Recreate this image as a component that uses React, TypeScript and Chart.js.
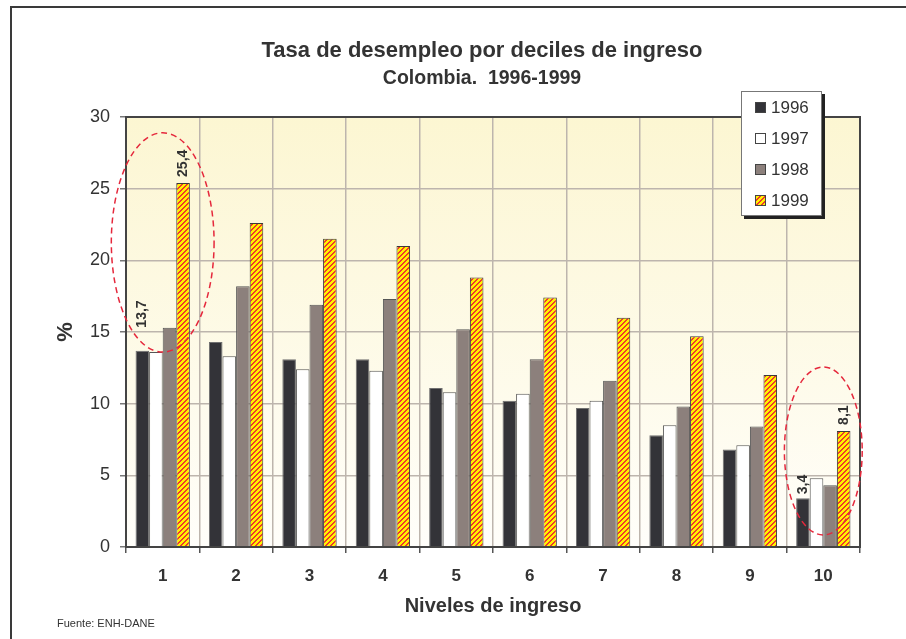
import React, { useEffect, useRef } from 'react';
import { Chart, registerables } from 'chart.js';

Chart.register(...registerables);

// ---------- data ----------
const categories = ['1', '2', '3', '4', '5', '6', '7', '8', '9', '10'];
const seriesLabels = ['1996', '1997', '1998', '1999'];
const values1996 = [13.7, 14.3, 13.1, 13.1, 11.1, 10.2, 9.7, 7.8, 6.8, 3.4];
const values1997 = [13.6, 13.3, 12.4, 12.3, 10.8, 10.7, 10.2, 8.5, 7.1, 4.8];
const values1998 = [15.3, 18.2, 16.9, 17.3, 15.2, 13.1, 11.6, 9.8, 8.4, 4.3];
const values1999 = [25.4, 22.6, 21.5, 21.0, 18.8, 17.4, 16.0, 14.7, 12.0, 8.1];
const yTicks = [0, 5, 10, 15, 20, 25, 30];

const titleText = 'Tasa de desempleo por deciles de ingreso';
const subtitleText = 'Colombia.  1996-1999';
const xAxisTitle = 'Niveles de ingreso';
const yAxisTitle = '%';
const sourceText = 'Fuente: ENH-DANE';

// which bars carry a value label (dataset index, category index)
const labelledBars = [
  { dataset: 0, index: 0 },
  { dataset: 3, index: 0 },
  { dataset: 0, index: 9 },
  { dataset: 3, index: 9 },
];
// red dashed rings around highlighted categories (value range in data units)
const highlightRings = [
  { index: 0, from: 13.6, to: 28.9 },
  { index: 9, from: 0.84, to: 12.56 },
];

const FONT = '"Liberation Sans", Arial, Helvetica, sans-serif';
const TEXT = '#333333';

function makeStripePattern(ctx: CanvasRenderingContext2D): CanvasPattern {
  const size = 5;
  const c = document.createElement('canvas');
  c.width = size;
  c.height = size;
  const p = c.getContext('2d')!;
  for (let y = 0; y < size; y++) {
    for (let x = 0; x < size; x++) {
      p.fillStyle = (x + y) % size < 2 ? '#ee3a2c' : '#fff200';
      p.fillRect(x, y, 1, 1);
    }
  }
  return ctx.createPattern(c, 'repeat')!;
}

export default function App() {
  const canvasRef = useRef<HTMLCanvasElement | null>(null);

  useEffect(() => {
    const canvas = canvasRef.current;
    if (!canvas) return;
    const ctx0 = canvas.getContext('2d')!;
    const stripes = makeStripePattern(ctx0);

    const labelLift = [23, 6, 4, 6];
    const ringHalfWidth = [0.7, 0.53];

    const decorPlugin = {
      id: 'decor',
      beforeDraw(chart: any) {
        const { ctx, chartArea, width, height } = chart;
        ctx.save();
        ctx.fillStyle = '#ffffff';
        ctx.fillRect(0, 0, width, height);
        // plot gradient
        const g = ctx.createLinearGradient(0, chartArea.top, 0, chartArea.bottom);
        g.addColorStop(0, '#fcf6d2');
        g.addColorStop(1, '#fffefa');
        ctx.fillStyle = g;
        ctx.fillRect(chartArea.left, chartArea.top, chartArea.right - chartArea.left, chartArea.bottom - chartArea.top);
        // outer frame (top + left)
        ctx.strokeStyle = '#3a3a3a';
        ctx.lineWidth = 2;
        ctx.beginPath();
        ctx.moveTo(11, height);
        ctx.lineTo(11, 7);
        ctx.lineTo(width, 7);
        ctx.stroke();
        ctx.restore();
      },
      afterDatasetsDraw(chart: any) {
        const { ctx, chartArea, scales } = chart;
        ctx.save();
        // plot border
        ctx.strokeStyle = '#444444';
        ctx.lineWidth = 2;
        ctx.strokeRect(chartArea.left, chartArea.top, chartArea.right - chartArea.left, chartArea.bottom - chartArea.top);

        // value labels
        ctx.fillStyle = TEXT;
        ctx.font = `bold 14px ${FONT}`;
        ctx.textAlign = 'left';
        ctx.textBaseline = 'middle';
        labelledBars.forEach((lb, i) => {
          const el = chart.getDatasetMeta(lb.dataset).data[lb.index];
          const v = chart.data.datasets[lb.dataset].data[lb.index];
          const txt = String(v).replace('.', ',');
          ctx.save();
          ctx.translate(el.x, el.y - labelLift[i]);
          ctx.rotate(-Math.PI / 2);
          ctx.fillText(txt, 0, 0);
          ctx.restore();
        });

        // dashed rings
        const xs = scales.x;
        const ys = scales.y;
        const catW = (xs.right - xs.left) / categories.length;
        ctx.strokeStyle = '#e5283c';
        ctx.lineWidth = 1.5;
        ctx.setLineDash([6, 4]);
        highlightRings.forEach((r, i) => {
          const cx = xs.getPixelForValue(r.index);
          const y1 = ys.getPixelForValue(r.to);
          const y2 = ys.getPixelForValue(r.from);
          ctx.beginPath();
          ctx.ellipse(cx, (y1 + y2) / 2, catW * ringHalfWidth[i], (y2 - y1) / 2, 0, 0, Math.PI * 2);
          ctx.stroke();
        });
        ctx.setLineDash([]);
        ctx.restore();
      },
      afterDraw(chart: any) {
        const { ctx } = chart;
        ctx.save();
        // titles
        ctx.fillStyle = TEXT;
        ctx.textAlign = 'center';
        ctx.textBaseline = 'alphabetic';
        ctx.font = `bold 22px ${FONT}`;
        ctx.fillText(titleText, 482, 57);
        ctx.font = `bold 19.5px ${FONT}`;
        ctx.fillText(subtitleText, 482, 84);

        // source
        ctx.textAlign = 'left';
        ctx.font = `11px ${FONT}`;
        ctx.fillText(sourceText, 57, 627);

        // legend
        const lx = 741, ly = 91, lw = 81, lh = 125;
        ctx.fillStyle = '#222222';
        ctx.fillRect(lx + 3, ly + 3, lw, lh);
        ctx.fillStyle = '#ffffff';
        ctx.fillRect(lx, ly, lw, lh);
        ctx.strokeStyle = '#777777';
        ctx.lineWidth = 1;
        ctx.strokeRect(lx + 0.5, ly + 0.5, lw - 1, lh - 1);
        ctx.font = `17px ${FONT}`;
        ctx.textBaseline = 'middle';
        chart.data.datasets.forEach((ds: any, i: number) => {
          const cy = ly + 16.5 + i * 31;
          ctx.fillStyle = ds.backgroundColor;
          ctx.fillRect(755, cy - 5.5, 11, 11);
          ctx.strokeStyle = '#444444';
          ctx.strokeRect(755.5, cy - 5, 10, 10);
          ctx.fillStyle = TEXT;
          ctx.fillText(ds.label, 771, cy + 1);
        });
        ctx.restore();
      },
    };

    const gridColor = '#bdb5ad';

    const chart = new Chart(canvas, {
      type: 'bar',
      data: {
        labels: categories,
        datasets: [
          { label: seriesLabels[0], data: values1996, backgroundColor: '#333338', borderColor: '#707070', borderWidth: 1 },
          { label: seriesLabels[1], data: values1997, backgroundColor: '#ffffff', borderColor: '#555555', borderWidth: 1 },
          { label: seriesLabels[2], data: values1998, backgroundColor: '#8c807c', borderColor: '#555555', borderWidth: 1 },
          { label: seriesLabels[3], data: values1999, backgroundColor: stripes as any, borderColor: '#3a3a3a', borderWidth: 1 },
        ],
      },
      options: {
        responsive: false,
        animation: false,
        devicePixelRatio: 1,
        layout: { padding: { left: 30, right: 46, top: 117, bottom: 10 } },
        datasets: { bar: { barPercentage: 1, categoryPercentage: 0.74 } },
        plugins: {
          legend: { display: false },
          title: { display: false },
          tooltip: { enabled: false },
        },
        scales: {
          x: {
            offset: true,
            grid: { offset: true, color: gridColor, lineWidth: 1.5, tickLength: 6, tickColor: '#555555' },
            border: { display: true, color: '#444444', width: 2 },
            ticks: { padding: 13, color: TEXT, font: { family: FONT, size: 17, weight: 'bold' } },
            title: {
              display: true,
              text: xAxisTitle,
              color: TEXT,
              font: { family: FONT, size: 20, weight: 'bold' },
              padding: { top: 0, bottom: 11 },
            },
            afterFit: (s: any) => { s.height = 82; },
          },
          y: {
            min: 0,
            max: 30,
            afterBuildTicks: (s: any) => { s.ticks = yTicks.map((v) => ({ value: v })); },
            grid: { color: gridColor, lineWidth: 1.5, tickLength: 6, tickColor: '#777777' },
            border: { display: true, color: '#444444', width: 2 },
            ticks: { padding: 10, color: TEXT, font: { family: FONT, size: 18 } },
            title: {
              display: true,
              text: yAxisTitle,
              color: TEXT,
              font: { family: FONT, size: 22, weight: 'bold' },
              padding: { top: 23, bottom: 0 },
            },
            afterFit: (s: any) => { s.width = 96; },
          },
        },
      } as any,
      plugins: [decorPlugin],
    });

    return () => {
      chart.destroy();
    };
  }, []);

  return (
    <div style={{ position: 'absolute', left: 0, top: 0, width: 906, height: 639 }}>
      <canvas ref={canvasRef} width={906} height={639} style={{ display: 'block', width: 906, height: 639 }} />
    </div>
  );
}
